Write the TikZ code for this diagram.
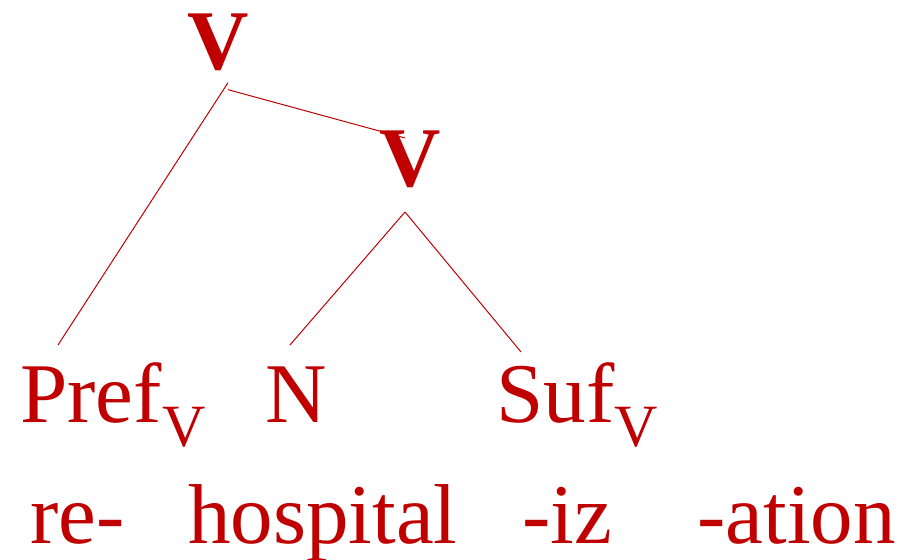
\documentclass[tikz,border=0pt]{standalone}
\usepackage{fontspec}
\setmainfont{Liberation Serif}
\usepackage{tikz}
\usetikzlibrary{positioning, calc}
\usepackage{xcolor}
\definecolor{treered}{HTML}{C00000}
\newcommand{\subV}{\raisebox{-12pt}{\fontsize{30}{30}\selectfont V}}

\begin{document}
\begin{tikzpicture}[x=0.5pt, y=-0.5pt, every node/.style={text=treered, inner sep=0pt, font=\fontsize{42.5}{42.5}\selectfont}, branch/.style={draw=treered, line width=0.5pt}]
                \useasboundingbox (0,0) rectangle (902,560);
                \node[anchor=base, font=\fontsize{42.5}{42.5}\selectfont\bfseries] (top) at (218,70) {V};
                \node[anchor=base, font=\fontsize{42.5}{42.5}\selectfont\bfseries] (verb) at (410,187) {V};
                \node[anchor=base west] (pref) at (20,423) {Pref\subV};
                \node[anchor=base west] (noun) at (265,423) {N};
                \node[anchor=base west] (suf) at (496,423) {Suf\subV};
                \node[anchor=base west] (re) at (30,544) {re-};
                \node[anchor=base west] (hosp) at (188,544) {hospital};
                \node[anchor=base west] (iz) at (522,544) {-iz};
                \node[anchor=base west] (ation) at (697,544) {-ation};
                \draw[branch] ([shift={(10,11)}]top.south) -- ([shift={(38,-78)}]pref.base west);
                \draw[branch] ([shift={(10,18)}]top.south) -- ([shift={(-5,-49)}]verb.base);
                \draw[branch] ([shift={(-5,25)}]verb.base) -- ([shift={(25,-78)}]noun.base west);
                \draw[branch] ([shift={(-5,25)}]verb.base) -- ([shift={(25,-71)}]suf.base west);
            \end{tikzpicture}
\end{document}
